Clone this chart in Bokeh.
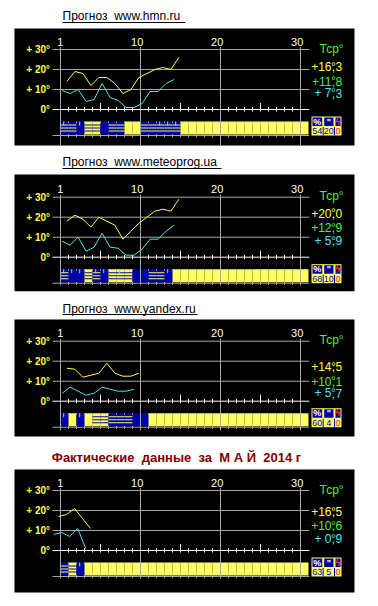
from bokeh.plotting import figure
from bokeh.models import Range1d
from bokeh.layouts import column
from bokeh.core.properties import value
from bokeh.embed import file_html
from bokeh.resources import INLINE

# ---------------- data: May 2014 temperature forecasts and actuals ----------------
titles = ["Прогноз  www.hmn.ru", "Прогноз  www.meteoprog.ua",
          "Прогноз  www.yandex.ru", "Фактические  данные  за  М А Й  2014 г"]

hmn_days = list(range(1, 16))
hmn_tmax = [14, 19, 18, 12, 16, 16, 13, 8, 10, 16, 18, 20, 21, 20, 26]
hmn_tmin = [9.5, 8, 10, 4, 5, 13, 6, 4.5, 1, 1, 3, 9, 9, 13, 15]

meteoprog_days = list(range(1, 16))
meteoprog_tmax = [18, 21, 19, 15, 20, 18, 16, 9, 13, 17, 20, 23, 24, 23, 29]
meteoprog_tmin = [8, 6, 10, 3, 5, 12, 5, 4.5, 1, 1, 4, 9, 9, 13, 16]

yandex_days = list(range(1, 11))
yandex_tmax = [16.5, 16, 12, 13, 14, 19, 14, 12.5, 12.5, 14]
yandex_tmin = [4, 7, 5, 3, 4, 7, 6, 5, 5, 6]

fact_days = [0, 1, 2, 3, 4]
fact_tmax = [17, 18, 21, 16, 11]
fact_tmin = [8, 9, 7, 11, 1]

# mean temperatures listed in the legend column (max / average / min)
mean_max = [16.3, 20.0, 14.5, 16.5]
mean_avg = [11.8, 12.9, 10.1, 10.6]
mean_min = [7.3, 5.9, 5.7, 0.9]

# humidity %, precipitation, thunderstorms
humidity = [54, 68, 60, 63]
precip = [20, 10, 4, 5]
storms = [0, 0, 0, 0]

# daily sky codes: 0 clear, 1 partly cloudy, 2 cloudy, 3 overcast; days with rain
hmn_sky = [2, 2, 3, 1, 1, 3, 2, 2, 0, 0, 2, 2, 2, 2, 2]
meteoprog_sky = [2, 3, 3, 1, 2, 3, 1, 1, 1, 3, 3, 2, 2, 3, 0]
yandex_sky = [3, 0, 3, 0, 1, 1, 2, 2, 2, 3, 3]
fact_sky = [2, 1, 3]
hmn_rain = [1, 3, 13, 14, 15]
meteoprog_rain = [1, 2, 3, 5, 6, 8, 14]
yandex_rain = [1, 3]
fact_rain = [3]

month_days = 31
day_labels = ["1", "10", "20", "30"]
day_label_at = [0, 10, 20, 30]
temp_levels = [0, 10, 20, 30]
temp_labels = ["0°", "+ 10°", "+ 20°", "+ 30°"]

# ---------------- styling ----------------
W = 378
XR = (-7.5, 39.75)          # 8 px per day, day 0 at x = 60 px
GRID = "#a8a8a8"
YEL = "#ffff40"
CYAN = "#48e8e8"
GREEN = "#48f048"
STRIP_Y = "#ffff66"
STRIP_B = "#0000a8"
RAIN = "#48ffff"
FONT = value("Liberation Sans")

# page layout of every panel, in page pixels
LAYOUT = [
    dict(top=0, bot=150, zero=109, box=(28, 145), vbot=145, head=15, uline=(22, 185)),
    dict(top=150, bot=298, zero=256.7, box=(174, 290.7), vbot=285, head=161.5, uline=(168, 221)),
    dict(top=298, bot=446, zero=400.7, box=(319, 436), vbot=430, head=308, uline=(314, 197)),
    dict(top=446, bot=606, zero=550, box=(469, 592), vbot=578, head=457, uline=None),
]
LEGEND_Y = [(21.5, 14.15, 8.25), (21.95, 14.75, 8.35), (17.2, 9.95, 4.1), (19.35, 12.4, 5.85)]


def px_to_u(px):
    return (px - 60) / 8.0


def keep_spaces(s):
    # svg collapses runs of blanks, so double blanks keep their width as a no-break space
    return s.replace("  ", " \u00a0")


def txt(p, x, y, s, color, size, align="left", baseline="middle", style="normal"):
    p.text(x=x, y=y, text=s, text_font=FONT, text_font_size=size, text_color=color,
           text_align=align, text_baseline=baseline, text_font_style=style)


def split_mean(v):
    whole = int(v)
    frac = int(round((v - whole) * 10))
    return "+%2d" % whole, str(frac)


def draw_panel(k, days, tmax, tmin, sky, rain, shift):
    lay = LAYOUT[k]
    z = lay["zero"]

    def deg(px):
        return (z - px) / 2.0

    p = figure(width=W, height=lay["bot"] - lay["top"],
               x_range=Range1d(*XR), y_range=Range1d(deg(lay["bot"]), deg(lay["top"])),
               output_backend="svg", toolbar_location=None,
               x_axis_type=None, y_axis_type=None, min_border=0,
               outline_line_color=None, background_fill_color="white",
               border_fill_color="white")

    # heading
    if lay["uline"] is not None:
        txt(p, [px_to_u(62)], [deg(lay["head"])], [keep_spaces(titles[k])], "black", "12px")
        uy = deg(lay["uline"][0])
        p.segment(x0=[px_to_u(62)], y0=[uy], x1=[px_to_u(lay["uline"][1])], y1=[uy],
                  line_color="black", line_width=1)
    else:
        txt(p, [px_to_u(176)], [deg(lay["head"])], [keep_spaces(titles[k])], "#800000", "13px",
            align="center", style="bold")

    # black panel
    p.quad(left=[px_to_u(14)], right=[px_to_u(354)], top=[deg(lay["box"][0])],
           bottom=[deg(lay["box"][1])], fill_color="black", line_color=None)

    # horizontal grid and bottom strip line
    levels = temp_levels[1:]
    p.segment(x0=[-1] * len(levels), y0=levels, x1=[31.1] * len(levels), y1=levels,
              line_color=GRID, line_width=1)
    p.segment(x0=[-1], y0=[-13], x1=[31.1], y1=[-13], line_color=GRID, line_width=1)

    # day strip: sky condition per day
    codes = sky + [0] * (month_days - len(sky))
    d_all = list(range(1, month_days + 1))
    p.quad(left=[d - 1 for d in d_all], right=d_all, top=[-6] * month_days,
           bottom=[-12.5] * month_days,
           fill_color=[STRIP_Y if c < 2 else STRIP_B for c in codes], line_color=None)
    sl, sr, st, sc = [], [], [], []
    for d, c in zip(d_all, codes):
        if c in (1, 2):
            for yy in (-7.5, -9.0, -10.5):
                sl.append(d - 1)
                sr.append(d)
                st.append(yy)
                sc.append(STRIP_B if c == 1 else STRIP_Y)
    if sl:
        p.quad(left=sl, right=sr, top=st, bottom=[t - 0.5 for t in st],
               fill_color=sc, line_color=None)
    p.segment(x0=[d - 0.6 for d in rain], y0=[-6] * len(rain),
              x1=[d - 0.6 for d in rain], y1=[-8] * len(rain), line_color=RAIN, line_width=1)

    # small gray day marks along the strip
    marks = list(range(1, 31))
    p.segment(x0=marks, y0=[-12.3] * 30, x1=marks, y1=[-13.9] * 30, line_color=GRID, line_width=1)
    p.segment(x0=marks, y0=[-6] * 30, x1=marks, y1=[-6.8] * 30, line_color=GRID, line_width=1)

    # vertical decade lines and the zero line
    p.segment(x0=day_label_at, y0=[31.2] * 4, x1=day_label_at, y1=[deg(lay["vbot"])] * 4,
              line_color=GRID, line_width=1)
    p.segment(x0=[-1], y0=[0], x1=[31.1], y1=[0], line_color="white", line_width=1)

    # day ticks on the zero line
    tk = [d for d in range(1, 30) if d % 10]
    p.segment(x0=tk, y0=[-1] * len(tk), x1=tk,
              y1=[3.2 if d % 5 == 0 else 1.2 for d in tk],
              line_color="white", line_width=1)

    # axis labels
    txt(p, [x + 0.35 for x in day_label_at], [34] * 4, day_labels, "white", "11px", align="right")
    txt(p, [-1.3] * 4, temp_levels, temp_labels, YEL, "10px", align="right", style="bold")

    # temperature curves
    p.line(x=[d - 1 + 0.2 - shift for d in days], y=tmin, line_color=CYAN, line_width=1)
    p.line(x=[d - 1 + 0.8 - shift for d in days], y=tmax, line_color=YEL, line_width=1)

    # legend column
    txt(p, [px_to_u(319)], [30.5], ["Тср°"], GREEN, "12px")
    xc = px_to_u(333)
    ys = LEGEND_Y[k]
    for val, yc, col in zip((mean_max[k], mean_avg[k], mean_min[k]), ys, (YEL, GREEN, CYAN)):
        head, tail = split_mean(val)
        txt(p, [xc - 0.25], [yc], [head.replace(" ", "\u00a0")], col, "12px", align="right")
        txt(p, [xc], [yc], ["°"], col, "12px", align="center")
        txt(p, [xc], [yc], [","], col, "12px", align="center")
        txt(p, [xc + 0.25], [yc], [tail], col, "12px")

    # humidity / precipitation / storm box
    edges = [px_to_u(311), px_to_u(322.7), px_to_u(334), px_to_u(341)]
    p.quad(left=[edges[0]], right=[edges[3]], top=[-3.5], bottom=[-13],
           fill_color=STRIP_Y, line_color=None)
    p.quad(left=[e + 0.125 for e in edges[:3]], right=[e - 0.125 for e in edges[1:]],
           top=[-4.0] * 3, bottom=[-8.25] * 3, fill_color=STRIP_B, line_color=None)
    p.segment(x0=edges[1:3], y0=[-8.75] * 2, x1=edges[1:3], y1=[-13] * 2,
              line_color=STRIP_B, line_width=1)
    mids = [(edges[i] + edges[i + 1]) / 2 for i in range(3)]
    txt(p, mids, [-6.1] * 3, ["%", "\"", "ϟ"], ["white", "white", "#ff3030"], "9px",
        align="center", style="bold")
    txt(p, mids, [-10.7] * 3, [str(humidity[k]), str(precip[k]), str(storms[k])],
        [STRIP_B, STRIP_B, "#ff2020"], "9px", align="center")
    return p


panels = [
    draw_panel(0, hmn_days, hmn_tmax, hmn_tmin, hmn_sky, hmn_rain, 0),
    draw_panel(1, meteoprog_days, meteoprog_tmax, meteoprog_tmin, meteoprog_sky, meteoprog_rain, 0),
    draw_panel(2, yandex_days, yandex_tmax, yandex_tmin, yandex_sky, yandex_rain, 0),
    draw_panel(3, fact_days, fact_tmax, fact_tmin, fact_sky, fact_rain, 0.05),
]

page = column(*panels, spacing=0)
open("out.html", "w").write(file_html(page, INLINE))
